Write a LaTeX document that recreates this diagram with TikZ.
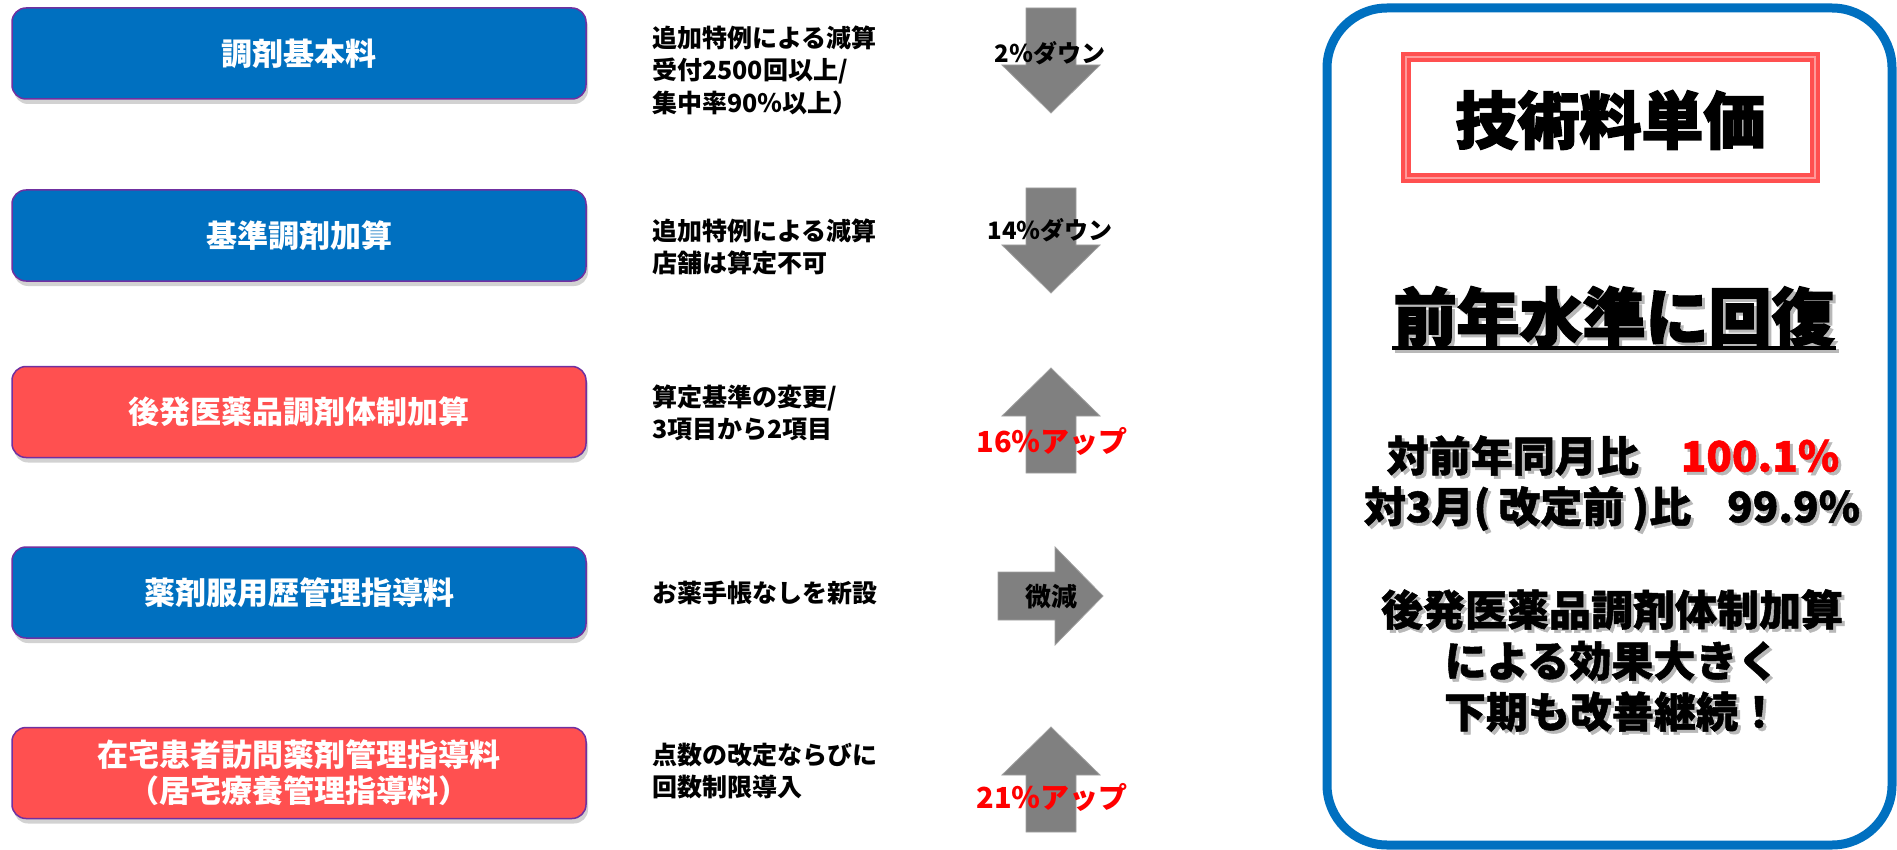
\documentclass[tikz,border=0pt]{standalone}
\usepackage{fontspec}
\setmainfont{Noto Sans CJK JP}
\newfontfamily\heavy{Noto Sans CJK JP}[BoldFeatures={FakeBold=2.5}]
\newfontfamily\semiheavy{Noto Sans CJK JP}[BoldFeatures={FakeBold=1.2}]
\usetikzlibrary{shadows}
\definecolor{cblue}{HTML}{0070C0}
\definecolor{cred}{HTML}{FF5050}
\definecolor{cpurple}{HTML}{7030A0}
\definecolor{cgray}{HTML}{808080}
\definecolor{cpink}{HTML}{FF9A9A}
\newcommand\shtxt[1]{\leavevmode\rlap{\hspace{3pt}\raisebox{-3pt}{\color{black!28}#1}}#1}
\begin{document}
\begin{tikzpicture}[x=1pt,y=-1pt,
  itembox/.style={draw=cpurple, line width=1.5pt, rounded corners=14pt, minimum width=574pt, minimum height=91pt, text=white, font=\fontsize{31}{36}\selectfont\bfseries, align=center, inner sep=0pt, drop shadow={opacity=0.35, shadow xshift=2pt, shadow yshift=-5pt}},
  bluebox/.style={itembox, fill=cblue},
  redbox/.style={itembox, fill=cred},
  note/.style={anchor=west, align=left, font=\fontsize{25}{32.5}\selectfont\bfseries, inner sep=0pt},
  arr/.style={fill=cgray, draw=cgray!75!white, line width=0.8pt},
  lab/.style={font=\fontsize{24}{28}\selectfont\bfseries, inner sep=0pt},
  uplab/.style={font=\fontsize{29}{32}\selectfont\bfseries, text=red, inner sep=0pt},
  big/.style={font=\fontsize{62}{70}\selectfont\heavy\bfseries, inner sep=0pt},
  mid/.style={font=\fontsize{42}{51}\selectfont\semiheavy\bfseries, inner sep=0pt, align=center},
]
\useasboundingbox (0,0) rectangle (1897,850);
\fill[white] (0,0) rectangle (1897,850);

% left boxes
\node[bluebox] (b1) at (299,53.5) {調剤基本料};
\node[bluebox] (b2) at (299,235.5) {基準調剤加算};
\node[redbox]  (b3) at (299,412) {後発医薬品調剤体制加算};
\node[bluebox] (b4) at (299,592.5) {薬剤服用歴管理指導料};
\node[redbox]  (b5) at (299,773) {在宅患者訪問薬剤管理指導料\\（居宅療養管理指導料）};

% middle notes
\node[note] (n1) at (652,70) {追加特例による減算\\受付2500回以上/\\集中率90％以上）};
\node[note] (n2) at (652,247) {追加特例による減算\\店舗は算定不可};
\node[note] (n3) at (652,413) {算定基準の変更/\\3項目から2項目};
\node[note] (n4) at (652,593) {お薬手帳なしを新設};
\node[note] (n5) at (652,771) {点数の改定ならびに\\回数制限導入};

% arrows
\draw[arr] (1026,8) -- (1076,8) -- (1076,65) -- (1100,65) -- (1051,113) -- (1002,65) -- (1026,65) -- cycle;
\draw[arr] (1026,188) -- (1076,188) -- (1076,245) -- (1100,245) -- (1051,293) -- (1002,245) -- (1026,245) -- cycle;
\draw[arr] (1026,473) -- (1076,473) -- (1076,416) -- (1100,416) -- (1051,368) -- (1002,416) -- (1026,416) -- cycle;
\draw[arr] (998,572) -- (1055,572) -- (1055,547) -- (1103,596) -- (1055,645) -- (1055,620) -- (998,620) -- cycle;
\draw[arr] (1026,832) -- (1076,832) -- (1076,775) -- (1100,775) -- (1051,727) -- (1002,775) -- (1026,775) -- cycle;

\node[lab] (a1) at (1050,53) {2％ダウン};
\node[lab] (a2) at (1050,230) {14％ダウン};
\node[uplab] (a3) at (1052,441) {16％アップ};
\node[lab, font=\fontsize{26}{30}\selectfont\bfseries] (a4) at (1051,597) {微減};
\node[uplab] (a5) at (1052,797) {21％アップ};

% right panel
\draw[cblue, line width=9pt, rounded corners=60pt] (1327,8) rectangle (1892,845);
\draw[cred, line width=10pt] (1406,57) rectangle (1815,178);
\draw[cpink, line width=2.5pt] (1406,57) rectangle (1815,178);
\node[big] (tk) at (1610.5,120) {技術料単価};
\draw[black!28, line width=4pt] (1395,351) -- (1839,351);
\node[big, font=\fontsize{63}{70}\selectfont\heavy\bfseries] (rc) at (1614,318) {\shtxt{前年水準に回復}};
\draw[line width=4pt] (1392,348) -- (1836,348);
\node[mid] (r1) at (1613,457) {\shtxt{対前年同月比}　\textcolor{red}{\shtxt{100.1\%}}};
\node[mid] (r2) at (1612,510) {\shtxt{対3月(\hspace{8pt}改定前\hspace{8pt})比\hspace{36pt}99.9\%}};
\node[mid] (r3) at (1612,662) {\shtxt{後発医薬品調剤体制加算}\\\shtxt{による効果大きく}\\\shtxt{下期も改善継続！}};
\end{tikzpicture}
\end{document}
